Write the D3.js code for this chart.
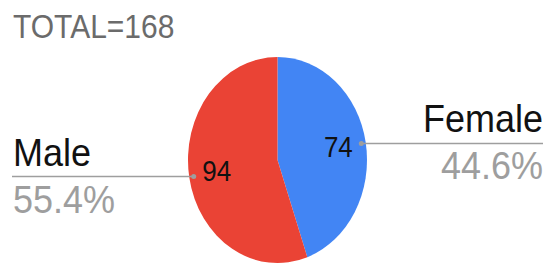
<!DOCTYPE html>
<html>
<head>
<meta charset="utf-8">
<script src="https://cdn.jsdelivr.net/npm/d3@7"></script>
<style>
  body { margin: 0; background: #fff; }
  text { font-family: "Liberation Sans", Arial, sans-serif; }
</style>
</head>
<body>
<svg id="main" width="556" height="277"></svg>
<script>
// data
var categories = ["Female", "Male"];
var counts = [74, 94];
var percents = [44.6, 55.4];   // as printed on the chart
var colors = ["#4285f4", "#ea4335"];
var totalLabel = "TOTAL=168";

var svg = d3.select("#main");
var cx = 277.5, cy = 160, rx = 89.5, ry = 103;
var stretch = 1.1; // text looks a bit taller than wide

var pie = d3.pie().sort(null).value(function(d) { return d; });
var arcs = pie(percents);
var arc = d3.arc().innerRadius(0).outerRadius(100);

// pie drawn as circle then squashed into ellipse
var g = svg.append("g")
    .attr("transform", "translate(" + cx + "," + cy + ") scale(" + (rx / 100) + "," + (ry / 100) + ")");
g.selectAll("path").data(arcs).enter().append("path")
    .attr("d", arc)
    .attr("fill", function(d, i) { return colors[i]; });

function pt(d, r) {
    var a = (d.startAngle + d.endAngle) / 2;
    return [cx + rx * r * Math.sin(a), cy - ry * r * Math.cos(a)];
}

function txt(x, y, s, size, fill, anchor) {
    return svg.append("text")
        .attr("transform", "translate(" + x + "," + y + ") scale(1," + stretch + ")")
        .attr("font-size", size)
        .attr("fill", fill)
        .attr("text-anchor", anchor)
        .text(s);
}

// total
txt(13, 38, totalLabel, 30, "#6b6b6b", "start");

arcs.forEach(function(d, i) {
    var inner = pt(d, 0.69);
    txt(inner[0], inner[1] + 9, counts[i], 26, "#111", "middle");

    var dot = pt(d, 0.95);
    var right = dot[0] > cx;
    var x2 = right ? 543 : 12;
    svg.append("line")
        .attr("x1", dot[0]).attr("y1", dot[1])
        .attr("x2", x2).attr("y2", dot[1])
        .attr("stroke", "#9e9e9e").attr("stroke-width", 1.5);
    svg.append("circle")
        .attr("cx", dot[0]).attr("cy", dot[1]).attr("r", 2.5)
        .attr("fill", "#9e9e9e");

    var anchor = right ? "end" : "start";
    var tx = right ? 543 : 13;
    txt(tx, dot[1] - 11, categories[i], 36, "#111", anchor);
    txt(tx, dot[1] + 36, percents[i].toFixed(1) + "%", 36, "#9e9e9e", anchor);
});
</script>
</body>
</html>
